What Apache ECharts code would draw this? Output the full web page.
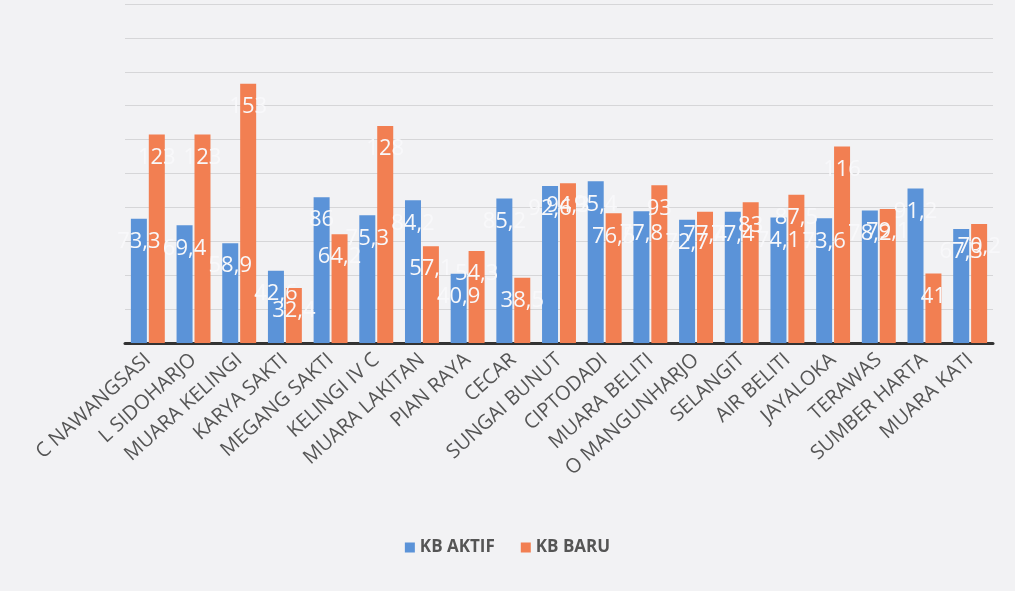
<!DOCTYPE html>
<html>
<head>
<meta charset="utf-8">
<script src="https://cdn.jsdelivr.net/npm/echarts@6/dist/echarts.min.js"></script>
<style>
  html, body { margin: 0; padding: 0; background: #f2f2f4; }
  #chart { width: 1015px; height: 591px; }
</style>
</head>
<body>
<div id="chart"></div>
<script>
const categories = [
  "C NAWANGSASI", "L SIDOHARJO", "MUARA KELINGI", "KARYA SAKTI", "MEGANG SAKTI",
  "KELINGI IV C", "MUARA LAKITAN", "PIAN RAYA", "CECAR", "SUNGAI BUNUT",
  "CIPTODADI", "MUARA BELITI", "O MANGUNHARJO", "SELANGIT", "AIR BELITI",
  "JAYALOKA", "TERAWAS", "SUMBER HARTA", "MUARA KATI"
];
const kbAktif = [73.3, 69.4, 58.9, 42.6, 86, 75.3, 84.2, 40.9, 85.2, 92.6, 95.4, 77.8, 72.7, 77.4, 74.1, 73.6, 78.2, 91.2, 67.3];
const kbBaru = [123, 123, 153, 32.4, 64.2, 128, 57.1, 54.3, 38.5, 94.3, 76.5, 93, 77.4, 83, 87.5, 116, 79.1, 41, 70.2];

const seriesNames = ["KB AKTIF", "KB BARU"];
const colors = ["#5b93d8", "#f27f52"];

const chart = echarts.init(document.getElementById("chart"));

// white labels centred on the bar; wider than the bar, so they fade into the page
const barLabel = {
  show: true,
  position: "insideTop",
  distance: 12,
  color: "#f8f8fa",
  fontSize: 22,
  fontFamily: "Open Sans",
  textBorderWidth: 0,
  textShadowBlur: 0,
  formatter: p => String(p.value).replace(".", ",")
};

chart.setOption({
  backgroundColor: "#f2f2f4",
  color: colors,
  grid: { left: 125, right: 22, top: 4, bottom: 248 },
  legend: {
    bottom: 30,
    left: "center",
    itemWidth: 10,
    itemHeight: 10,
    itemGap: 26,
    icon: "rect",
    textStyle: { color: "#555", fontSize: 17, fontWeight: "bold", fontFamily: "Open Sans" },
    data: seriesNames
  },
  xAxis: {
    type: "category",
    data: categories,
    axisLine: { lineStyle: { color: "#333", width: 3 } },
    axisTick: { show: false },
    axisLabel: {
      rotate: 42,
      interval: 0,
      margin: 14,
      color: "#555",
      fontSize: 20,
      fontFamily: "Open Sans"
    }
  },
  yAxis: {
    type: "value",
    min: 0,
    max: 200,
    interval: 20,
    axisLine: { show: false },
    axisTick: { show: false },
    axisLabel: { show: false },
    splitLine: { lineStyle: { color: "#d6d6d8", width: 1 } }
  },
  series: [
    { name: seriesNames[0], type: "bar", data: kbAktif, barWidth: 16, barGap: "12%", itemStyle: { borderWidth: 0 }, label: barLabel },
    { name: seriesNames[1], type: "bar", data: kbBaru, barWidth: 16, itemStyle: { borderWidth: 0 }, label: barLabel }
  ]
});
</script>
</body>
</html>
